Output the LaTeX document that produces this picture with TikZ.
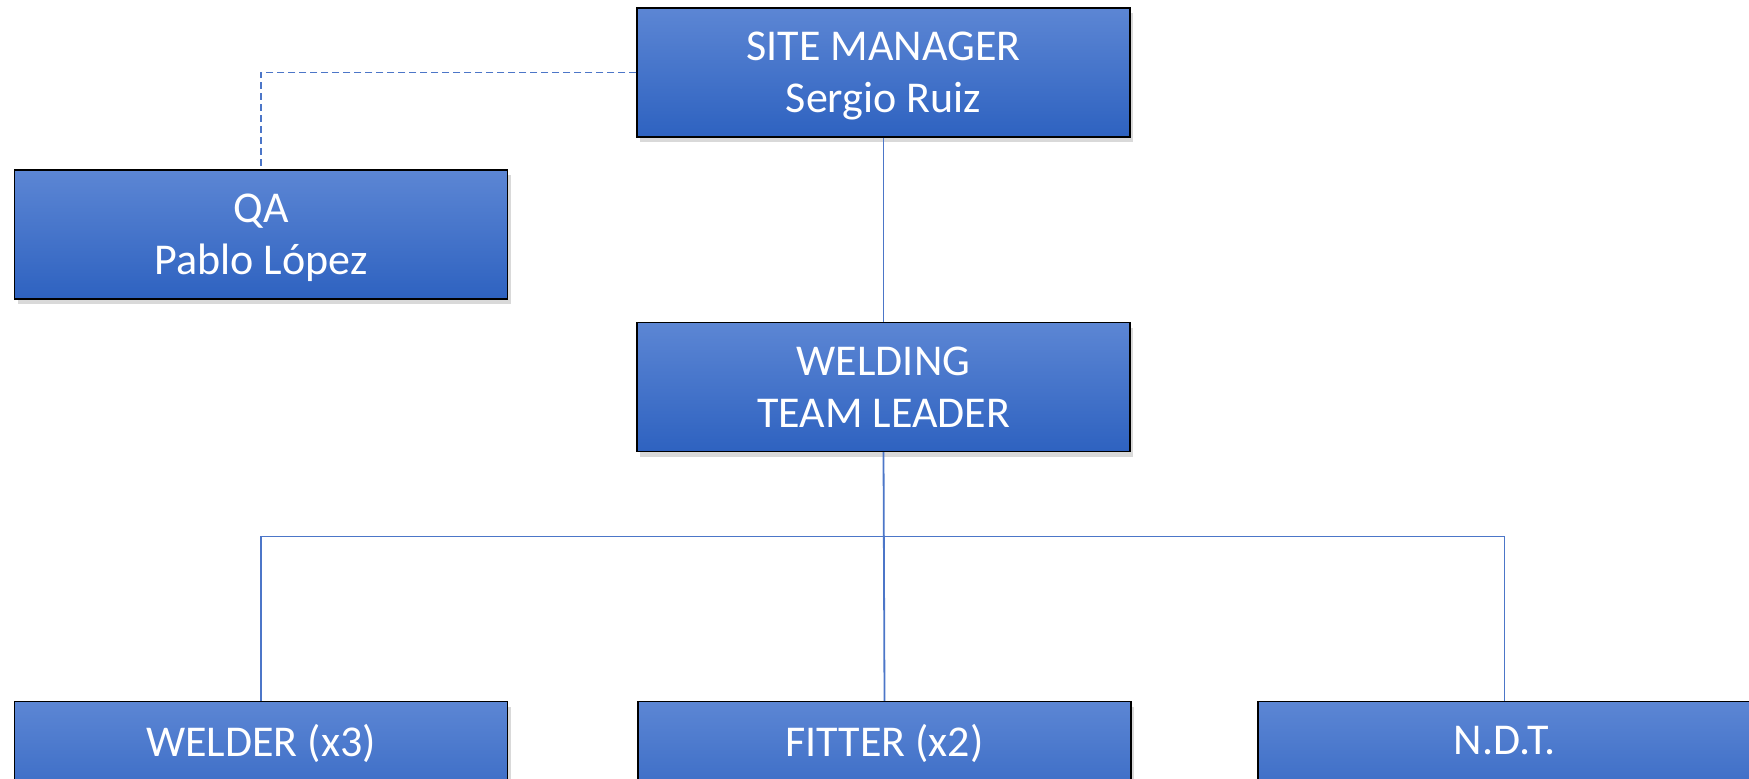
\documentclass[tikz,border=0pt]{standalone}
\usepackage{fontspec}
\setmainfont{Carlito}
\usetikzlibrary{shadows}
\definecolor{boxtop}{RGB}{92,134,212}
\definecolor{boxbot}{RGB}{46,98,192}
\definecolor{linkblue}{RGB}{76,118,200}

\begin{document}
\begin{tikzpicture}[x=0.5pt,y=-0.5pt,
  role/.style={draw=black, line width=0.7pt, top color=boxtop, bottom color=boxbot,
    text=white, align=center, font=\fontsize{22}{26}\selectfont, text depth=0pt,
    minimum width=246.5pt, minimum height=64.5pt, inner sep=0pt,
    drop shadow={shadow xshift=1.5pt, shadow yshift=-2.5pt, opacity=.3}},
  link/.style={draw=linkblue, line width=0.9pt}]
  \useasboundingbox (0,0) rectangle (1749,778);
  \node[role] (sm) at (883.5,72.5) {SITE MANAGER\\Sergio Ruiz};
  \node[role] (qa) at (261,234.5) {QA\\Pablo López};
  \node[role] (wtl) at (883.5,387) {WELDING\\TEAM LEADER};
  \node[role] (welder) at (261,766) {WELDER (x3)\\\strut};
  \node[role] (fitter) at (884.5,766) {FITTER (x2)\\\strut};
  \node[role] (ndt) at (1504.5,766) {N.D.T.\\\strut};
  \coordinate (bus) at (883.5,536.5);
  \draw[link, dash pattern=on 3.5pt off 2pt] (sm.west) -| (qa.north);
  \draw[link] (sm.south) -- (wtl.north);
  \draw[link] (wtl.south) -- (fitter.north);
  \draw[link] (welder.north) |- (bus) -| (ndt.north);
\end{tikzpicture}
\end{document}
